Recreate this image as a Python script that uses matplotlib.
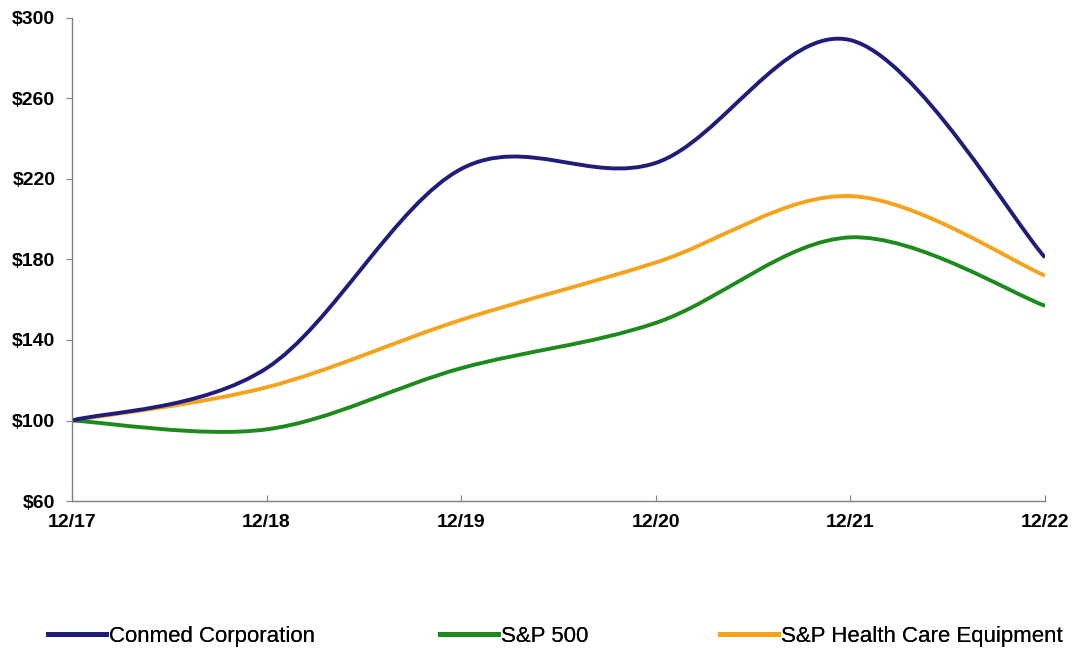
import matplotlib.pyplot as plt
import numpy as np
from matplotlib.path import Path
from matplotlib.patches import PathPatch
from matplotlib.lines import Line2D

plt.rcParams['font.family'] = ['Liberation Sans', 'DejaVu Sans']

# data
years = ['12/17', '12/18', '12/19', '12/20', '12/21', '12/22']
conmed = [100, 126, 225, 228, 289, 181]
sp500 = [100, 95.6, 126, 148.5, 191, 157]
hc_equip = [100, 116.5, 150, 178.5, 211.5, 172]

names = ['Conmed Corporation', 'S&P 500', 'S&P Health Care Equipment']
colors = ['#1f1c7c', '#1d8a1d', '#f7a21b']
y_ticks = [60, 100, 140, 180, 220, 260, 300]


def smooth_path(xs, ys):
    # excel-style smoothed line: cubic bezier with catmull-rom control points
    pts = np.column_stack([xs, ys]).astype(float)
    n = len(pts)
    verts = [pts[0]]
    codes = [Path.MOVETO]
    for i in range(n - 1):
        p0 = pts[i - 1] if i > 0 else pts[i]
        p1 = pts[i]
        p2 = pts[i + 1]
        p3 = pts[i + 2] if i + 2 < n else pts[i + 1]
        c1 = p1 + (p2 - p0) / 6.0
        c2 = p2 - (p3 - p1) / 6.0
        verts += [c1, c2, p2]
        codes += [Path.CURVE4] * 3
    return Path(verts, codes)


fig = plt.figure(figsize=(10.78, 6.51), dpi=100)
ax = fig.add_axes([0.0668, 0.2304, 0.9026, 0.742])

x = np.arange(len(years))
for vals, c in zip([hc_equip, sp500, conmed], [colors[2], colors[1], colors[0]]):
    ax.add_patch(PathPatch(smooth_path(x, vals), facecolor='none',
                           edgecolor=c, lw=2.8, capstyle='butt'))

ax.set_xlim(0, len(years) - 1)
ax.set_ylim(60, 300)
ax.set_xticks(x)
ax.set_xticklabels(years, fontsize=14, fontweight='bold')
ax.set_yticks(y_ticks)
ax.set_yticklabels(['$%d' % v for v in y_ticks], fontsize=14, fontweight='bold')

for s in ['top', 'right']:
    ax.spines[s].set_visible(False)
for s in ['left', 'bottom']:
    ax.spines[s].set_color('#808080')
    ax.spines[s].set_linewidth(1.0)
ax.tick_params(axis='y', direction='out', length=4, color='#808080', pad=8)
ax.tick_params(axis='x', direction='in', length=4, color='#808080', pad=9)

# three legend entries spread along the bottom like the original
legend_x = [48, 440, 720]
for name, c, lx in zip(names, colors, legend_x):
    leg = fig.legend([Line2D([], [], color=c, lw=3.5)], [name], loc='center left',
                     bbox_to_anchor=(lx / 1078, 0.023), frameon=False,
                     borderpad=0, borderaxespad=0, handlelength=2.6, handletextpad=0.15,
                     prop={'size': 16})
    fig.add_artist(leg)

fig.savefig('out.png', dpi=100)
